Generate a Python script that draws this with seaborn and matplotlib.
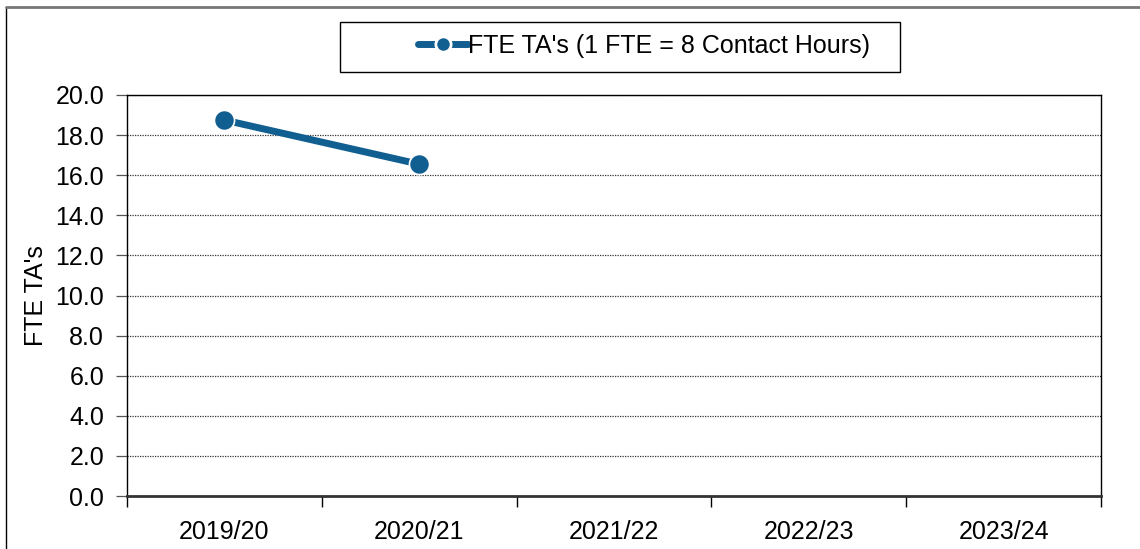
import matplotlib
matplotlib.use("Agg")
import matplotlib.pyplot as plt
import seaborn as sns
import pandas as pd
import numpy as np
from matplotlib.lines import Line2D
from matplotlib.patches import Rectangle

years = ["2019/20", "2020/21", "2021/22", "2022/23", "2023/24"]
fte_values = [18.75, 16.55, np.nan, np.nan, np.nan]
series_label = "FTE TA's (1 FTE = 8 Contact Hours)"
y_label = "FTE TA's"
y_ticks = [0, 2, 4, 6, 8, 10, 12, 14, 16, 18, 20]

sns.set_theme(style="white")
plt.rcParams['font.family'] = ['Liberation Sans', 'DejaVu Sans']
plt.rcParams['text.color'] = 'black'
plt.rcParams['xtick.color'] = 'black'
plt.rcParams['ytick.color'] = 'black'
plt.rcParams['axes.labelcolor'] = 'black'

FS = 18
W, H = 1140, 549
fig = plt.figure(figsize=(W / 100, H / 100), dpi=100)
left, right, top, bottom = 127, 1101, 95, 496
ax = fig.add_axes([left / W, 1 - bottom / H, (right - left) / W, (bottom - top) / H])

df = pd.DataFrame({"pos": np.arange(len(years)), "value": fte_values})
color = "#115E91"
sns.lineplot(data=df.dropna(), x="pos", y="value", ax=ax, color=color,
             linewidth=5, marker="o", markersize=14.5, markeredgecolor="white",
             markeredgewidth=1.2, label=series_label, legend=False)

ax.set_xlim(-0.5, len(years) - 0.5)
ax.set_ylim(0, 20)
ax.set_yticks(y_ticks)
ax.set_yticklabels([f"{v:.1f}" for v in y_ticks], fontsize=FS)
ax.yaxis.grid(True, linestyle=(0, (1, 1)), color="#333333", linewidth=0.9)
ax.xaxis.grid(False)

# category boundaries as ticks, labels centered
ax.set_xticks(np.arange(len(years) + 1) - 0.5)
ax.set_xticklabels([])
ax.set_xticks(np.arange(len(years)), minor=True)
ax.set_xticklabels(years, minor=True, fontsize=FS)
ax.tick_params(axis="x", which="major", direction="out", length=8, width=1, color="black", bottom=True)
ax.tick_params(axis="x", which="minor", length=0, pad=17, bottom=True)
ax.tick_params(axis="y", direction="out", length=8, width=0.9, color="#555555", left=True, pad=8.5)

for side in ["left", "right", "top"]:
    ax.spines[side].set_color("black")
    ax.spines[side].set_linewidth(1)
ax.spines["bottom"].set_color("#333333")
ax.spines["bottom"].set_linewidth(2)

ax.set_xlabel("")
ax.set_ylabel(y_label, fontsize=FS)
ax.yaxis.set_label_coords((48 - left) / (right - left), 0.5)

# legend box (Excel-style, wider than its content)
fig.add_artist(Rectangle((340 / W, 1 - 72 / H), (900 - 340) / W, 50 / H,
                         transform=fig.transFigure, fill=False, edgecolor="black", linewidth=1))
handle = Line2D([], [], color=color, linewidth=5, marker="o", markersize=11,
                markeredgecolor="white", markeredgewidth=2)
leg = fig.legend([handle], [series_label], loc="center left",
                 bbox_to_anchor=(418 / W, 1 - 46 / H),
                 fontsize=FS, frameon=False, borderpad=0, handlelength=2.0,
                 handletextpad=0.0, borderaxespad=0)

# figure border
fig.add_artist(Line2D([6 / W, 6 / W], [0, 1 - 7 / H], transform=fig.transFigure, color="black", linewidth=1))
fig.add_artist(Line2D([6 / W, 1], [1 - 7 / H, 1 - 7 / H], transform=fig.transFigure, color="#777777", linewidth=2))

fig.savefig("out.png", dpi=100, facecolor="white")
